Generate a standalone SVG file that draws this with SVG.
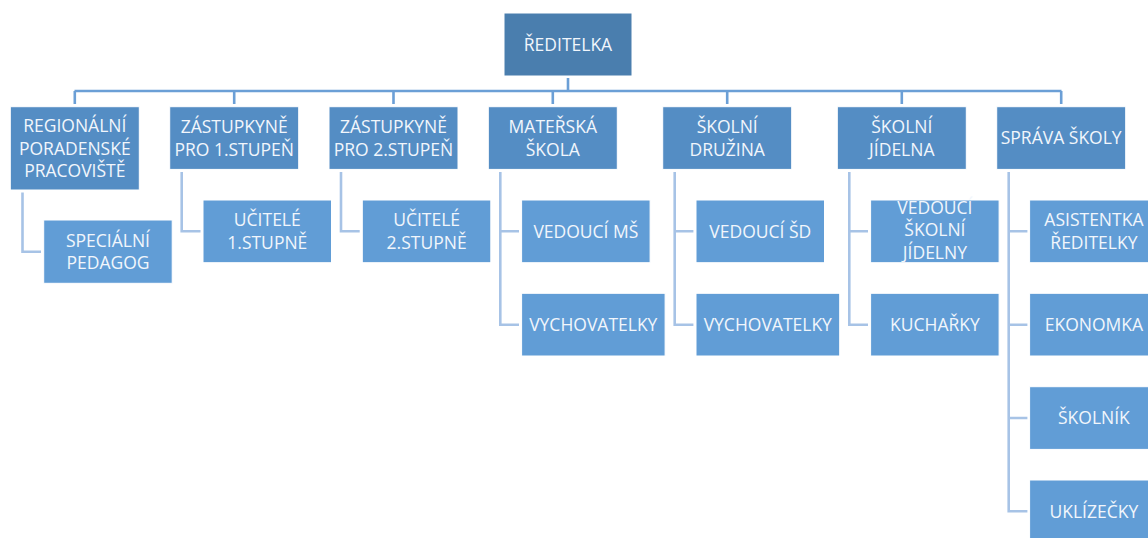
<svg xmlns="http://www.w3.org/2000/svg" width="1148" height="538" viewBox="0 0 1148 538">
<style>
.top{fill:#4a7eae;stroke:#ffffff;stroke-width:1}
.l1{fill:#548dc4;stroke:#ffffff;stroke-width:1}
.l2{fill:#619dd6;stroke:#ffffff;stroke-width:1}
text{font-family:"Open Sans","Noto Sans","Liberation Sans",sans-serif;font-size:17.5px;fill:#f1f6fc;text-anchor:middle}
.c1{fill:none;stroke:#6b9fd6;stroke-width:2.6}
.c2{fill:none;stroke:#a7c3e6;stroke-width:2.6}
</style>
<rect width="1148" height="538" fill="#ffffff"/>
<g id="connectors">
<path class="c1" d="M568,78 V91 M74.5,91 H1061.5 M74.8,91 V104 M234.2,91 V104 M393.5,91 V104 M552.8,91 V104 M727.2,91 V104 M901.8,91 V104 M1061.2,91 V104"/>
<path class="c2" d="M22.5,192.5 V251.7 H41"/>
<path class="c2" d="M181.7,172 V231.3 H200.5"/>
<path class="c2" d="M341,172 V231.3 H359.7"/>
<path class="c2" d="M500.3,172 V324.7 H519 M500.3,231.3 H519"/>
<path class="c2" d="M674.7,172 V324.7 H693.4 M674.7,231.3 H693.4"/>
<path class="c2" d="M849.3,172 V324.7 H868 M849.3,231.3 H868"/>
<path class="c2" d="M1008.7,172 V511.3 H1027.4 M1008.7,231.3 H1027.4 M1008.7,324.7 H1027.4 M1008.7,418 H1027.4"/>
</g>
<g id="reditelka"><rect class="top" x="504" y="13" width="128" height="63"/><text x="568" y="50.7">ŘEDITELKA</text></g>
<g id="regionalni"><rect class="l1" x="10.3" y="106.7" width="129" height="83.3"/><text x="74.8" y="132">REGIONÁLNÍ</text><text x="74.8" y="154.7">PORADENSKÉ</text><text x="74.8" y="177.4">PRACOVIŠTĚ</text></g>
<g id="zastupkyne1"><rect class="l1" x="169.7" y="106.7" width="129" height="62.7"/><text x="234.2" y="132.9">ZÁSTUPKYNĚ</text><text x="234.2" y="155.6">PRO 1.STUPEŇ</text></g>
<g id="zastupkyne2"><rect class="l1" x="329" y="106.7" width="129" height="62.7"/><text x="393.5" y="132.9">ZÁSTUPKYNĚ</text><text x="393.5" y="155.6">PRO 2.STUPEŇ</text></g>
<g id="materska"><rect class="l1" x="488.3" y="106.7" width="129" height="62.7"/><text x="552.8" y="132.9">MATEŘSKÁ</text><text x="552.8" y="155.6">ŠKOLA</text></g>
<g id="druzina"><rect class="l1" x="662.7" y="106.7" width="129" height="62.7"/><text x="727.2" y="132.9">ŠKOLNÍ</text><text x="727.2" y="155.6">DRUŽINA</text></g>
<g id="jidelna"><rect class="l1" x="837.3" y="106.7" width="129" height="62.7"/><text x="901.8" y="132.9">ŠKOLNÍ</text><text x="901.8" y="155.6">JÍDELNA</text></g>
<g id="sprava"><rect class="l1" x="996.7" y="106.7" width="129" height="62.7"/><text x="1061.2" y="144.3">SPRÁVA ŠKOLY</text></g>
<g id="specialni"><rect class="l2" x="43.7" y="220" width="128.5" height="63.3"/><text x="108" y="246.6">SPECIÁLNÍ</text><text x="108" y="269.3">PEDAGOG</text></g>
<g id="ucitele1"><rect class="l2" x="203" y="200" width="128.5" height="62.7"/><text x="267.3" y="226.2">UČITELÉ</text><text x="267.3" y="248.9">1.STUPNĚ</text></g>
<g id="ucitele2"><rect class="l2" x="362.3" y="200" width="128.5" height="62.7"/><text x="426.6" y="226.2">UČITELÉ</text><text x="426.6" y="248.9">2.STUPNĚ</text></g>
<g id="vedouci-ms"><rect class="l2" x="521.6" y="200" width="128.5" height="62.7"/><text x="585.9" y="237.6">VEDOUCÍ MŠ</text></g>
<g id="vychovatelky-ms"><rect class="l2" x="521.6" y="293.3" width="143.5" height="62.7"/><text x="593.3" y="330.9">VYCHOVATELKY</text></g>
<g id="vedouci-sd"><rect class="l2" x="696" y="200" width="128.5" height="62.7"/><text x="760.3" y="237.6">VEDOUCÍ ŠD</text></g>
<g id="vychovatelky-sd"><rect class="l2" x="696" y="293.3" width="143.7" height="62.7"/><text x="767.8" y="330.9">VYCHOVATELKY</text></g>
<g id="vedouci-sj"><rect class="l2" x="870.6" y="200" width="128.5" height="62.7"/><text x="934.9" y="213.6">VEDOUCÍ</text><text x="934.9" y="236.3">ŠKOLNÍ</text><text x="934.9" y="259">JÍDELNY</text></g>
<g id="kucharky"><rect class="l2" x="870.6" y="293.3" width="128.5" height="62.7"/><text x="934.9" y="330.9">KUCHAŘKY</text></g>
<g id="asistentka"><rect class="l2" x="1029.6" y="200" width="128.5" height="62.7"/><text x="1093.9" y="226.2">ASISTENTKA</text><text x="1093.9" y="248.9">ŘEDITELKY</text></g>
<g id="ekonomka"><rect class="l2" x="1029.6" y="293.3" width="128.5" height="62.7"/><text x="1093.9" y="330.9">EKONOMKA</text></g>
<g id="skolnik"><rect class="l2" x="1029.6" y="386.7" width="128.5" height="62.7"/><text x="1093.9" y="424.3">ŠKOLNÍK</text></g>
<g id="uklizecky"><rect class="l2" x="1029.6" y="480" width="128.5" height="62.7"/><text x="1093.9" y="517.6">UKLÍZEČKY</text></g>
</svg>
